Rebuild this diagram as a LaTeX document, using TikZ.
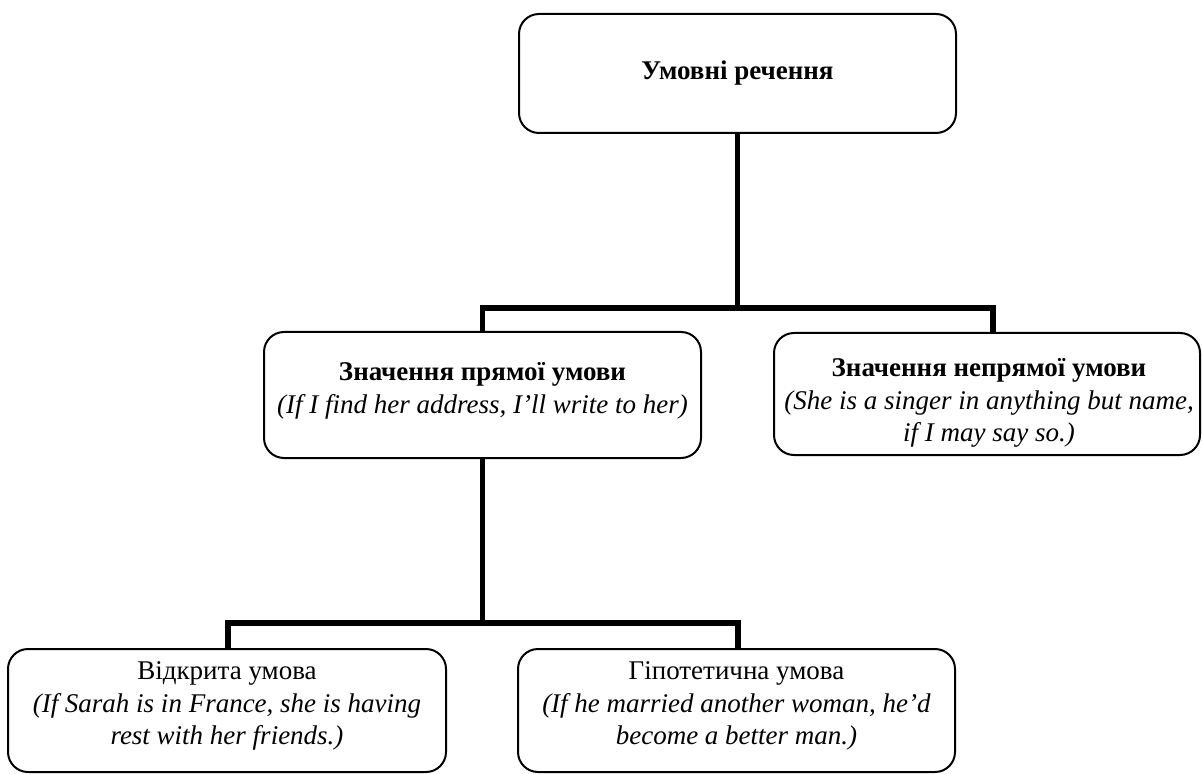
\documentclass[tikz,border=0pt]{standalone}
\usepackage{fontspec}
\setmainfont{Liberation Serif}
\begin{document}
\begin{tikzpicture}[x=0.5pt,y=-0.5pt,
  box/.style={draw=black,line width=1pt,rounded corners=10pt,inner sep=0pt},
  txt/.style={inner sep=0pt,align=center,font=\fontsize{13.5pt}{16.3pt}\selectfont},
  conn/.style={draw=black,line width=2.8pt,line join=miter}]
\useasboundingbox (0,0) rectangle (1202,774);
\node[box,minimum width=218.5pt,minimum height=59.5pt] (top) at (737.5,73.5) {};
\node[box,minimum width=218.5pt,minimum height=63pt] (ml) at (482.5,395) {};
\node[box,minimum width=213pt,minimum height=61pt] (mr) at (987,394) {};
\node[box,minimum width=219pt,minimum height=61.5pt] (bl) at (227,710.5) {};
\node[box,minimum width=218.5pt,minimum height=61.5pt] (br) at (736.5,710.5) {};
\node[txt] (topt) at (737.5,73) {\textbf{Умовні речення}};
\node[txt] (mlt) at (482.5,391) {\textbf{Значення прямої умови}\\\textit{(If I find her address, I’ll write to her)}};
\node[txt] (mrt) at (989,403) {\textbf{Значення непрямої умови}\\\textit{(She is a singer in anything but name,}\\\textit{if I may say so.)}};
\node[txt] (blt) at (227,706) {Відкрита умова\\\textit{(If Sarah is in France, she is having}\\\textit{rest with her friends.)}};
\node[txt] (brt) at (736.5,706) {Гіпотетична умова\\\textit{(If he married another woman, he’d}\\\textit{become a better man.)}};
\coordinate (j1) at (737.5,308);
\coordinate (d2) at (993,308);
\coordinate (j2) at (482.5,623);
\coordinate (d3) at (228,623);
\coordinate (d4) at (738,623);
\draw[conn] (top.south) -- (j1);
\draw[conn] (ml.north) |- (d2) -- (d2 |- mr.north);
\draw[conn] (ml.south) -- (j2);
\draw[conn] (d3 |- bl.north) -- (d3) -- (d4) -- (d4 |- br.north);
\end{tikzpicture}
\end{document}
